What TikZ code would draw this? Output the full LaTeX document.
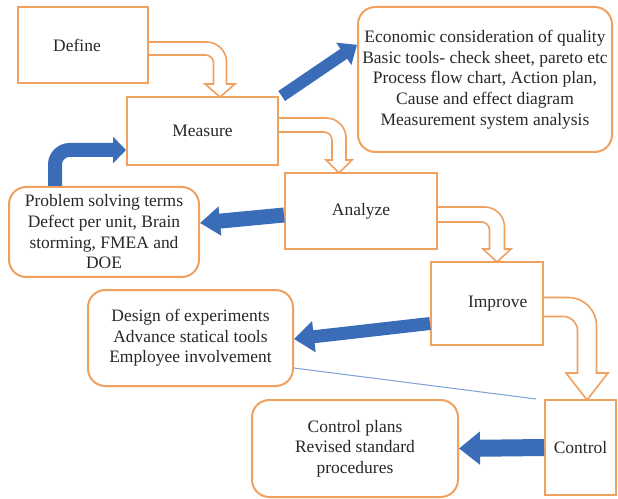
\documentclass[tikz,border=0pt]{standalone}
\usepackage{fontspec}
\setmainfont{Liberation Serif}
\usetikzlibrary{arrows.meta}
\definecolor{org}{RGB}{240,160,95}
\definecolor{blu}{RGB}{58,108,184}
\definecolor{thinblu}{RGB}{130,165,215}
\definecolor{txt}{RGB}{40,40,40}
\begin{document}
\begin{tikzpicture}[x=0.75pt,y=-0.75pt,
  font=\fontsize{13.1}{15.5}\selectfont, text=txt,
  sqbox/.style={draw=org, line width=1.5pt, fill=white, inner sep=2pt, align=center},
  rbox/.style={sqbox, rounded corners=13pt},
  hollow/.style={draw=org, line width=1.2pt, fill=white, line join=miter},
  blarrow/.style={draw=blu, line cap=butt}]
\useasboundingbox (0,0) rectangle (618,499);

% boxes
\node[sqbox, minimum width=97.5pt, minimum height=57pt] (def) at (83,45) {Define\hspace*{9pt}};
\node[sqbox, minimum width=113.25pt, minimum height=51pt] (meas) at (202.5,131) {Measure};
\node[rbox, minimum width=190.5pt, minimum height=108.75pt] (econ) at (485,79.5)
  {Economic consideration of quality\\Basic tools- check sheet, pareto etc\\Process flow chart, Action plan,\\Cause and effect diagram\\Measurement system analysis};
\node[sqbox, minimum width=114pt, minimum height=57pt] (ana) at (361,211) {Analyze};
\node[rbox, minimum width=142.5pt, minimum height=67.5pt] (prob) at (104,232)
  {Problem solving terms\\Defect per unit, Brain\\storming, FMEA and\\DOE};
\node[sqbox, minimum width=84pt, minimum height=62.25pt] (imp) at (487,303.5) {\hspace*{16pt}Improve};
\node[rbox, minimum width=153.75pt, minimum height=72pt] (des) at (190.5,338)
  {Design of experiments\\Advance statical tools\\Employee involvement};
\node[rbox, minimum width=154.5pt, minimum height=72.75pt] (cplan) at (355,448.5)
  {Control plans\\Revised standard\\procedures};
\node[sqbox, minimum width=53.25pt, minimum height=71.25pt, inner sep=1pt] (ctrl) at (580.5,447.5) {Control};

% hollow bent arrows
\draw[hollow] (148,42) -- (206.5,42) arc[start angle=270, end angle=360, radius=20]
  -- (226.5,84) -- (235,84) -- (220,97) -- (205,84) -- (213.5,84) -- (213.5,63)
  arc[start angle=0, end angle=-90, radius=8] -- (148,55) -- cycle;
\draw[hollow] (278,118) -- (326,118) arc[start angle=270, end angle=360, radius=20]
  -- (346,160) -- (352,160) -- (339,173) -- (326,160) -- (332,160) -- (332,140)
  arc[start angle=0, end angle=-90, radius=8] -- (278,132) -- cycle;
\draw[hollow] (437,207) -- (484.5,207) arc[start angle=270, end angle=360, radius=20]
  -- (504.5,249) -- (511,249) -- (497,262) -- (483,249) -- (489.5,249) -- (489.5,230)
  arc[start angle=0, end angle=-90, radius=8] -- (437,222) -- cycle;
\draw[hollow] (543,297.5) -- (568.5,297.5) arc[start angle=270, end angle=360, radius=28]
  -- (596.5,373) -- (608,373) -- (587,400) -- (566,373) -- (577.5,373) -- (577.5,330.5)
  arc[start angle=0, end angle=-90, radius=14] -- (543,316.5) -- cycle;

% thin line
\draw[thinblu, line width=0.8pt] ([yshift=-22.5pt]des.east) -- ([xshift=-6pt]ctrl.north west);

% blue arrows
\draw[blarrow, line width=9pt, -{Triangle[length=12pt,width=19.5pt]}]
  ([xshift=2pt]meas.north east) -- ([yshift=26pt]econ.west);
\draw[blarrow, line width=10.5pt, rounded corners=11pt, -{Triangle[length=9.75pt,width=19.5pt]}]
  ([xshift=-36.75pt]prob.north) |- ([yshift=-14.25pt]meas.west);
\draw[blarrow, line width=11.25pt, -{Triangle[length=15pt,width=21pt]}]
  ([yshift=-3pt]ana.west) -- ([yshift=6.75pt]prob.east);
\draw[blarrow, line width=9.75pt, -{Triangle[length=15pt,width=22.5pt]}]
  ([yshift=-15pt]imp.west) -- ([yshift=-0.75pt]des.east);
\draw[blarrow, line width=12.75pt, -{Triangle[length=15.75pt,width=24pt]}]
  (ctrl.west) -- (cplan.east);
\end{tikzpicture}
\end{document}
